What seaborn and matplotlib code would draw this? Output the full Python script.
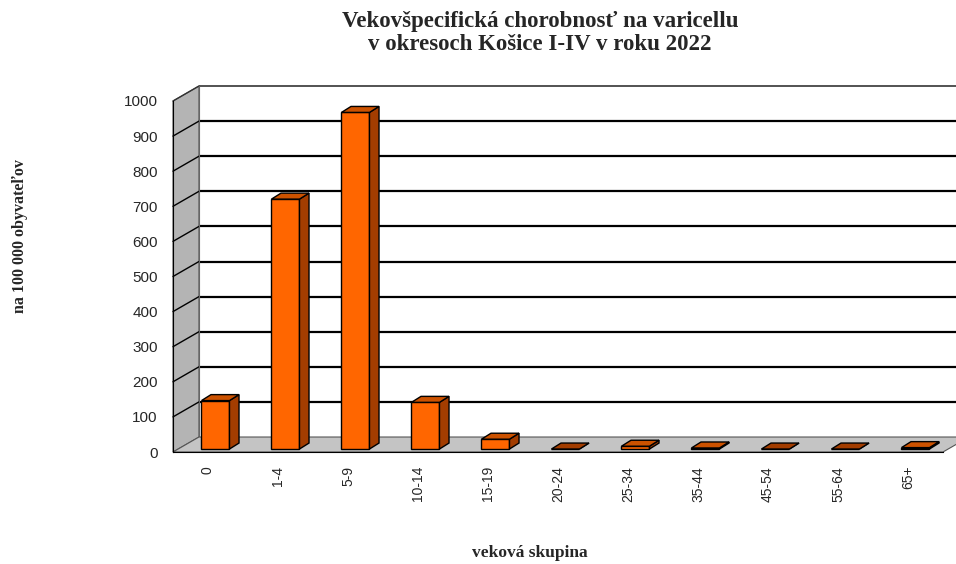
import matplotlib
matplotlib.use("Agg")
import matplotlib.pyplot as plt
from matplotlib.patches import Polygon
import numpy as np
import seaborn as sns

# ---------------------------------------------------------------------------
# Data
# ---------------------------------------------------------------------------
age_groups = ["0", "1-4", "5-9", "10-14", "15-19", "20-24",
              "25-34", "35-44", "45-54", "55-64", "65+"]
morbidity = [138, 712, 959, 133, 28, 0, 8, 3, 0, 0, 4]
y_ticks = [0, 100, 200, 300, 400, 500, 600, 700, 800, 900, 1000]

TITLE = "Vekovšpecifická chorobnosť na varicellu\nv okresoch Košice I-IV v roku 2022"
Y_LABEL = "na 100 000 obyvateľov"
X_LABEL = "veková skupina"

# ---------------------------------------------------------------------------
# Style / pseudo-3D geometry (data units)
# ---------------------------------------------------------------------------
FRONT = "#FF6600"
TOP = "#CC5200"
SIDE = "#A33D00"
WALL = "#B4B4B4"
FLOOR = "#C4C4C4"

WALL_DX, WALL_DY = 0.371, 42.7      # depth of walls / floor
BAR_DX, BAR_DY = 0.107, 8.5         # bar front face offset inside the floor
SIDE_DX, SIDE_DY = 0.136, 17.0      # bar depth
X_MIN, X_MAX = -0.5, len(age_groups) - 0.5

sns.set_style("white")
plt.rcParams["font.family"] = ["Liberation Sans", "DejaVu Sans"]

fig = plt.figure(figsize=(9.56, 5.64), dpi=100)
ax = fig.add_axes([173 / 956, 112 / 564, 770 / 956, 351 / 564])

# walls and floor
left_wall = Polygon([(X_MIN, 0), (X_MIN, 1000), (X_MIN + WALL_DX, 1000 + WALL_DY),
                     (X_MIN + WALL_DX, WALL_DY)], closed=True, facecolor=WALL,
                    edgecolor="#555555", lw=0.8, zorder=0.5, clip_on=False)
ax.add_patch(left_wall)
floor = Polygon([(X_MIN, 0), (X_MAX, 0), (X_MAX + WALL_DX, WALL_DY),
                 (X_MIN + WALL_DX, WALL_DY)], closed=True, facecolor=FLOOR,
                edgecolor="#555555", lw=0.8, zorder=1.5, clip_on=False)
ax.add_patch(floor)

# back-wall gridlines + diagonals on the left wall
for v in y_ticks[1:]:
    top_edge = v == y_ticks[-1]
    ax.plot([X_MIN + WALL_DX, X_MAX + 1.0], [v + WALL_DY, v + WALL_DY],
            color="#444444" if top_edge else "black",
            lw=1.3 if top_edge else 1.6, zorder=1, clip_on=False,
            solid_capstyle="butt")
    ax.plot([X_MIN, X_MIN + WALL_DX], [v, v + WALL_DY],
            color="#333333" if top_edge else "black", lw=1.0, zorder=1,
            clip_on=False)
ax.plot([X_MIN + WALL_DX, X_MIN + WALL_DX], [WALL_DY, 1000 + WALL_DY],
        color="#666666", lw=0.8, zorder=1, clip_on=False)

# front faces of the bars
sns.barplot(x=age_groups, y=morbidity, color=FRONT, saturation=1, width=0.4,
            edgecolor="black", linewidth=1.0, ax=ax, zorder=3)

for p in list(ax.patches):
    if isinstance(p, Polygon):
        continue
    p.set_x(p.get_x() + BAR_DX)
    p.set_y(BAR_DY)
    x0, x1 = p.get_x(), p.get_x() + p.get_width()
    y0, y1 = BAR_DY, BAR_DY + p.get_height()
    top = Polygon([(x0, y1), (x1, y1), (x1 + SIDE_DX, y1 + SIDE_DY),
                   (x0 + SIDE_DX, y1 + SIDE_DY)], closed=True,
                  facecolor=TOP if y1 > y0 + 1 else SIDE,
                  edgecolor="black", lw=1.0, zorder=3.2, clip_on=False)
    side = Polygon([(x1, y0), (x1, y1), (x1 + SIDE_DX, y1 + SIDE_DY),
                    (x1 + SIDE_DX, y0 + SIDE_DY)], closed=True,
                   facecolor=SIDE, edgecolor="black", lw=1.0, zorder=3.1,
                   clip_on=False)
    ax.add_patch(side)
    ax.add_patch(top)

# axes
ax.set_xlim(X_MIN, X_MAX)
ax.set_ylim(0, 1000)
ax.set_yticks(y_ticks)
ax.set_yticklabels([str(v) for v in y_ticks], fontsize=11)
ax.set_xticks(np.arange(len(age_groups)))
ax.set_xticklabels(age_groups, rotation=90, fontsize=10)
ax.set_xticks(np.arange(X_MIN, X_MAX + 0.5, 1.0), minor=True)
ax.tick_params(axis="x", which="major", length=0, pad=10)
ax.tick_params(axis="x", which="minor", length=5, width=1, direction="out")
ax.tick_params(axis="y", length=5, width=1, direction="out", pad=6)
for s in ["top", "right"]:
    ax.spines[s].set_visible(False)
ax.spines["left"].set_color("black")
ax.spines["bottom"].set_color("black")
ax.spines["left"].set_zorder(4)
ax.set_facecolor("none")
ax.set_xlabel("")
ax.set_ylabel("")

serif = ["Liberation Serif", "DejaVu Serif"]
fig.text(540 / 956, 1 - 33 / 564, TITLE, ha="center", va="center",
         fontsize=16.5, fontweight="bold", family=serif, linespacing=1.1)
fig.text(20 / 956, 1 - 236 / 564, Y_LABEL, ha="center", va="center",
         rotation=90, fontsize=11.5, fontweight="bold", family=serif)
fig.text(530 / 956, 1 - 553 / 564, X_LABEL, ha="center", va="center",
         fontsize=12.5, fontweight="bold", family=serif)

fig.savefig("out.png", dpi=100)
